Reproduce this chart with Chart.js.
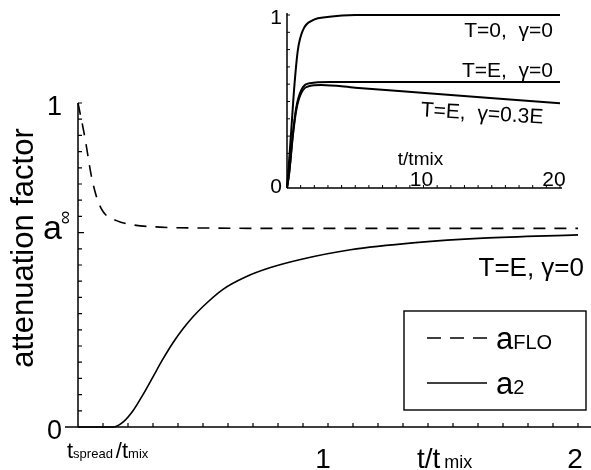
<!DOCTYPE html>
<html>
<head>
<meta charset="utf-8">
<script src="https://cdn.jsdelivr.net/npm/chart.js@4.4.1/dist/chart.umd.min.js"></script>
<style>
  html, body { margin: 0; padding: 0; background: #fff; }
  #wrap { position: relative; width: 591px; height: 470px; }
  #main { position: absolute; left: 0; top: 0; }
  #inset { position: absolute; left: 250px; top: 0; }
</style>
</head>
<body>
<div id="wrap">
  <canvas id="main" width="591" height="470"></canvas>
  <canvas id="inset" width="341" height="200"></canvas>
</div>
<script>
// main panel: t/tmix vs attenuation factor
const floX = [0, 0.027, 0.054, 0.074, 0.10, 0.154, 0.219, 0.327, 0.527, 0.8, 1.2, 1.6, 2.0];
const floY = [1.0, 0.896, 0.773, 0.711, 0.665, 0.637, 0.624, 0.617, 0.614, 0.613, 0.613, 0.613, 0.613];
const a2X = [0, 0.14, 0.18, 0.22, 0.26, 0.30, 0.34, 0.38, 0.42, 0.46, 0.50, 0.58, 0.67, 0.77, 0.89, 1.09, 1.35, 1.62, 2.0];
const a2Y = [0, 0, 0.015, 0.05, 0.10, 0.155, 0.21, 0.26, 0.303, 0.34, 0.372, 0.425, 0.463, 0.492, 0.517, 0.547, 0.569, 0.583, 0.593];
const xTickLabels = [[1, "1"], [2, "2"]];
const yTickLabels = [[0, "0"], [1, "1"]];
const aInf = 0.6;
const tSpread = 0.1;

// inset: longer times
const t0X = [0, 0.1, 0.3, 0.55, 0.8, 1.17, 1.9, 3.1, 5, 20];
const t0Y = [0, 0.1, 0.32, 0.6, 0.8, 0.913, 0.97, 0.99, 1.0, 1.0];
const tEX = [0, 0.15, 0.44, 0.69, 1.05, 1.66, 3.1, 20];
const tEY = [0, 0.08, 0.32, 0.47, 0.567, 0.606, 0.613, 0.613];
const tEgX = [0, 0.15, 0.44, 0.69, 1.05, 1.66, 2.5, 5, 12, 20];
const tEgY = [0, 0.08, 0.31, 0.455, 0.55, 0.59, 0.595, 0.58, 0.538, 0.49];
const insetXLabels = [[10, "10"], [20, "20"]];
const insetYLabels = [[0, "0"], [1, "1"]];

const FONT = "'Liberation Sans', Arial, sans-serif";
const pts = (xs, ys) => xs.map((x, i) => ({ x: x, y: ys[i] }));

function rich(ctx, parts, x, y, align) {
    let w = 0;
    parts.forEach(p => { ctx.font = p[1]; w += ctx.measureText(p[0]).width + (p[2] || 0); });
    let cx = align === "right" ? x - w : align === "center" ? x - w / 2 : x;
    parts.forEach(p => {
        ctx.font = p[1];
        ctx.fillText(p[0], cx, y);
        cx += ctx.measureText(p[0]).width + (p[2] || 0);
    });
}

const mainDeco = {
    id: "mainDeco",
    afterDraw(chart) {
        const ctx = chart.ctx, xs = chart.scales.x, ys = chart.scales.y;
        const x0 = xs.getPixelForValue(0), y0 = ys.getPixelForValue(0);
        ctx.save();
        ctx.strokeStyle = "#000";
        ctx.fillStyle = "#000";
        ctx.lineWidth = 1.5;
        ctx.beginPath();
        ctx.moveTo(x0 - 13, y0); ctx.lineTo(chart.width, y0);
        ctx.moveTo(x0, y0); ctx.lineTo(x0, ys.getPixelForValue(1));
        ctx.stroke();
        ctx.lineWidth = 1.2;
        ctx.beginPath();
        for (let i = 1; i <= 20; i++) {
            const px = xs.getPixelForValue(i / 10);
            ctx.moveTo(px, y0); ctx.lineTo(px, y0 - 4);
        }
        for (let i = 1; i <= 20; i++) {
            const py = ys.getPixelForValue(i / 20);
            ctx.moveTo(x0, py); ctx.lineTo(x0 + (i === 12 ? 6 : 4), py);
        }
        ctx.stroke();

        ctx.textBaseline = "alphabetic";
        ctx.font = "27px " + FONT;
        ctx.textAlign = "right";
        yTickLabels.forEach(([v, s]) => {
            ctx.fillText(s, x0 - 16, ys.getPixelForValue(v) + 12);
        });
        ctx.textAlign = "center";
        ctx.font = "28px " + FONT;
        xTickLabels.forEach(([v, s]) => {
            ctx.fillText(s, xs.getPixelForValue(v) - (v === 1 ? 5 : 3), 468);
        });
        ctx.textAlign = "left";
        // a-infinity
        const pyInf = ys.getPixelForValue(aInf);
        ctx.font = "34px " + FONT;
        ctx.fillText("a", 43, pyInf + 6);
        ctx.save();
        ctx.translate(66, pyInf - 15);
        ctx.rotate(-Math.PI / 2);
        ctx.font = "19px " + FONT;
        ctx.textAlign = "center";
        ctx.textBaseline = "middle";
        ctx.fillText("\u221E", 0, 0);
        ctx.restore();
        // tspread / tmix
        const pxS = xs.getPixelForValue(tSpread);
        rich(ctx, [["t", "22px " + FONT], ["spread", "13px " + FONT, 3], ["/t", "22px " + FONT], ["mix", "13px " + FONT]], pxS - 36, 458, "left");
        // x title
        rich(ctx, [["t/t", "28px " + FONT, 4], ["mix", "18px " + FONT]], 417, 468, "left");
        // y title
        ctx.save();
        ctx.translate(33, 248);
        ctx.rotate(-Math.PI / 2);
        ctx.textAlign = "center";
        ctx.font = "31px " + FONT;
        ctx.fillText("attenuation factor", 0, 0);
        ctx.restore();
        // curve note
        ctx.textAlign = "right";
        ctx.font = "26px " + FONT;
        ctx.fillText("T=E, \u03B3=0", 584, 276);
        // legend
        ctx.lineWidth = 1.4;
        ctx.strokeRect(404, 311, 182, 99);
        ctx.lineWidth = 1.6;
        ctx.setLineDash([14, 9]);
        ctx.beginPath(); ctx.moveTo(427, 338); ctx.lineTo(487, 338); ctx.stroke();
        ctx.setLineDash([]);
        ctx.beginPath(); ctx.moveTo(427, 383); ctx.lineTo(487, 383); ctx.stroke();
        ctx.textAlign = "left";
        rich(ctx, [["a", "31px " + FONT], ["FLO", "20px " + FONT]], 496, 349, "left");
        rich(ctx, [["a", "31px " + FONT], ["2", "20px " + FONT]], 496, 394, "left");
        ctx.restore();
    }
};

new Chart(document.getElementById("main"), {
    type: "scatter",
    data: {
        datasets: [
            { label: "aFLO", data: pts(floX, floY), showLine: true, borderColor: "#000", borderWidth: 1.6,
              borderDash: [12, 9], pointRadius: 0, cubicInterpolationMode: "monotone", clip: false },
            { label: "a2", data: pts(a2X, a2Y), showLine: true, borderColor: "#000", borderWidth: 1.6,
              pointRadius: 0, cubicInterpolationMode: "monotone", clip: false }
        ]
    },
    options: {
        responsive: false,
        animation: false,
        devicePixelRatio: 1,
        layout: { padding: { left: 78, right: 13, top: 103, bottom: 43 } },
        scales: {
            x: { type: "linear", min: 0, max: 2, display: false },
            y: { type: "linear", min: 0, max: 1, display: false }
        },
        plugins: { legend: { display: false }, tooltip: { enabled: false } }
    },
    plugins: [mainDeco]
});

const insetDeco = {
    id: "insetDeco",
    afterDraw(chart) {
        const ctx = chart.ctx, xs = chart.scales.x, ys = chart.scales.y;
        const x0 = xs.getPixelForValue(0), y0 = ys.getPixelForValue(0);
        ctx.save();
        ctx.strokeStyle = "#000";
        ctx.fillStyle = "#000";
        ctx.lineWidth = 1.5;
        ctx.beginPath();
        ctx.moveTo(x0, y0); ctx.lineTo(xs.getPixelForValue(20) + 2, y0);
        ctx.moveTo(x0, y0); ctx.lineTo(x0, ys.getPixelForValue(1) - 2);
        ctx.stroke();
        ctx.lineWidth = 1;
        ctx.beginPath();
        for (let i = 1; i <= 20; i++) {
            const px = xs.getPixelForValue(i);
            ctx.moveTo(px, y0); ctx.lineTo(px, y0 - 3);
        }
        for (let i = 1; i <= 10; i++) {
            const py = ys.getPixelForValue(i / 10);
            ctx.moveTo(x0, py); ctx.lineTo(x0 + 3, py);
        }
        ctx.stroke();
        ctx.textBaseline = "alphabetic";
        ctx.font = "21px " + FONT;
        ctx.textAlign = "right";
        insetYLabels.forEach(([v, s]) => ctx.fillText(s, x0 - 5, ys.getPixelForValue(v) + (v === 0 ? 5 : 9)));
        ctx.textAlign = "center";
        insetXLabels.forEach(([v, s]) => ctx.fillText(s, xs.getPixelForValue(v) + (v === 20 ? -6 : -2), y0 - 2));
        ctx.font = "19px " + FONT;
        ctx.fillText("t/tmix", xs.getPixelForValue(10) - 3, y0 - 23);
        ctx.textAlign = "right";
        ctx.font = "21px " + FONT;
        ctx.fillText("T=0,  \u03B3=0", 303, 37);
        ctx.fillText("T=E,  \u03B3=0", 303, 77);
        ctx.save();
        ctx.translate(232, 115);
        ctx.rotate(0.06);
        ctx.textAlign = "center";
        ctx.fillText("T=E,  \u03B3=0.3E", 0, 5);
        ctx.restore();
        ctx.restore();
    }
};

const insetLine = (xs, ys) => ({ data: pts(xs, ys), showLine: true, borderColor: "#000", borderWidth: 2,
    pointRadius: 0, cubicInterpolationMode: "monotone", clip: false });

new Chart(document.getElementById("inset"), {
    type: "scatter",
    data: { datasets: [insetLine(t0X, t0Y), insetLine(tEX, tEY), insetLine(tEgX, tEgY)] },
    options: {
        responsive: false,
        animation: false,
        devicePixelRatio: 1,
        layout: { padding: { left: 37, right: 31, top: 15, bottom: 12 } },
        scales: {
            x: { type: "linear", min: 0, max: 20, display: false },
            y: { type: "linear", min: 0, max: 1, display: false }
        },
        plugins: { legend: { display: false }, tooltip: { enabled: false } }
    },
    plugins: [insetDeco]
});
</script>
</body>
</html>
